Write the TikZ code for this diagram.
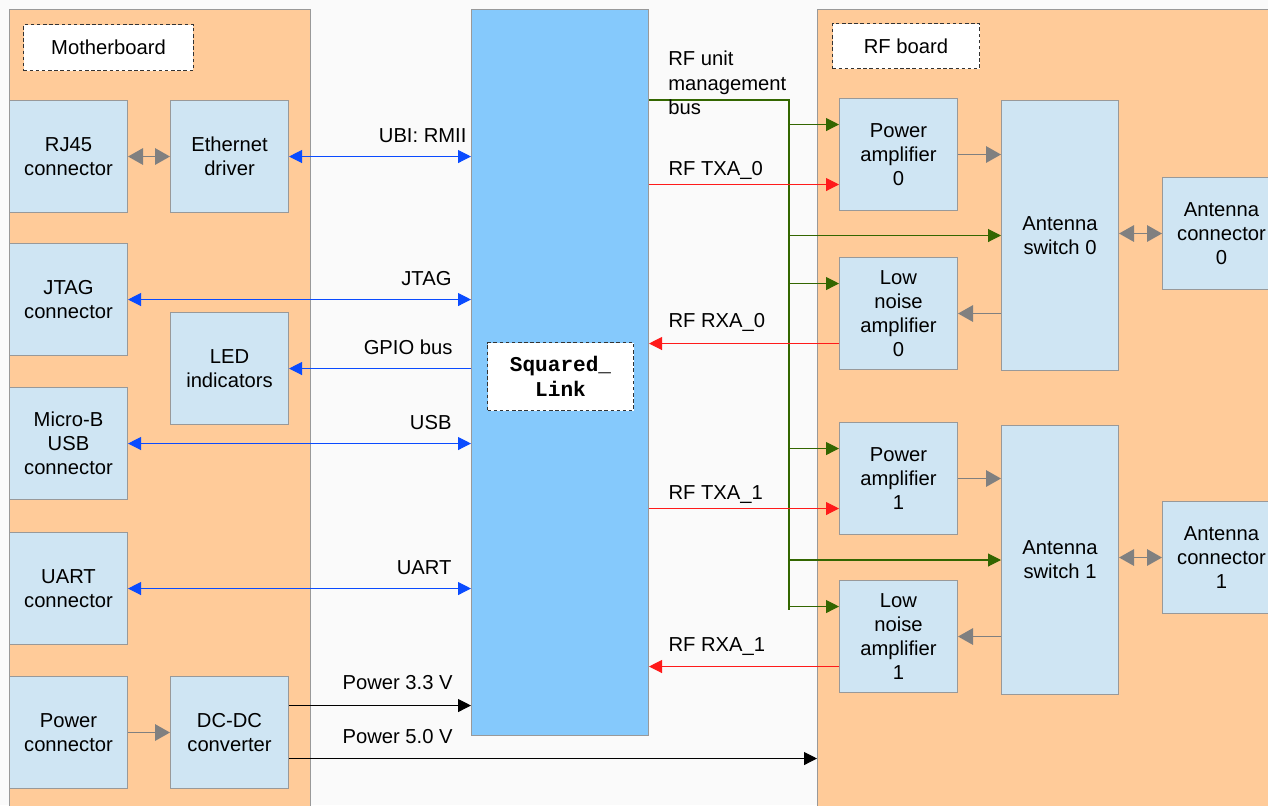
\documentclass[tikz,border=0pt]{standalone}
\usepackage{fontspec}
\setmainfont{Liberation Sans}
\setmonofont{Liberation Mono}
\usetikzlibrary{positioning, arrows.meta, calc}
\definecolor{pagegray}{HTML}{FAFAFA}
\definecolor{boardorange}{HTML}{FFCB99}
\definecolor{blockfill}{HTML}{CFE5F3}
\definecolor{blockline}{HTML}{999999}
\definecolor{linkblue}{HTML}{85C9FC}
\definecolor{busblue}{HTML}{0A4BFF}
\definecolor{mgmtgreen}{HTML}{336600}
\definecolor{rfred}{HTML}{FF1A1A}
\definecolor{tipgray}{HTML}{808080}
\tikzset{
  >={Triangle[length=2.6mm, width=2.6mm]},
  every node/.style={font=\fontsize{11.5}{13.8}\selectfont},
  board/.style={
    rectangle, draw=blockline, fill=boardorange, anchor=north west,
    line width=0.6pt, inner sep=0pt
  },
  block/.style={
    rectangle, draw=blockline, fill=blockfill, anchor=north west,
    minimum width=2.36cm, minimum height=2.24cm, align=center,
    inner sep=2pt, line width=0.6pt
  },
  namebox/.style={
    rectangle, draw=black!80, dash pattern=on 2pt off 1.5pt, fill=white,
    anchor=north west, align=center, inner sep=0pt, line width=0.6pt
  },
  busarrow/.style={busblue, line width=0.6pt},
  rfarrow/.style={->, rfred, line width=0.6pt},
  mgmtarrow/.style={->, mgmtgreen, line width=0.6pt},
  pwrarrow/.style={->, black, line width=0.6pt},
  grayarrow/.style={-{Triangle[length=3mm, width=3.3mm]}, tipgray, line width=0.9pt},
  graybiarrow/.style={{Triangle[length=3mm, width=3.3mm]}-{Triangle[length=3mm, width=3.3mm]},
    tipgray, line width=0.9pt},
  notelabel/.style={inner sep=0pt, align=left, text=black}
}

\begin{document}
\begin{tikzpicture}[x=0.02cm, y=-0.02cm]

\useasboundingbox (0,0) rectangle (1268,805);
\clip (0,0) rectangle (1268,805);
\fill[pagegray] (0,0) rectangle (1268,805);

% Boards
\node[board, minimum width=6.02cm, minimum height=16.5cm] (mobo) at (9,9) {};
\node[board, minimum width=9.4cm, minimum height=16.5cm] (rfb) at (817,9) {};
\node[board, fill=linkblue, minimum width=3.54cm, minimum height=14.52cm] (link) at (471,9) {};

\node[namebox, minimum width=3.4cm, minimum height=0.92cm] (mobotag) at (23,24) {Motherboard};
\node[namebox, minimum width=2.94cm, minimum height=0.9cm] (rftag) at (832,23) {RF board};
\node[namebox, minimum width=2.92cm, minimum height=1.36cm, font=\fontsize{12}{14.5}\selectfont\ttfamily\bfseries]
  (linktag) at (487,342) {Squared\_\\Link};

% Motherboard blocks
\node[block] (rj)   at (9,100)   {RJ45\\connector};
\node[block] (eth)  at (170,100) {Ethernet\\driver};
\node[block] (jtag) at (9,243)   {JTAG\\connector};
\node[block] (led)  at (170,312) {LED\\indicators};
\node[block] (usb)  at (9,387)   {Micro-B\\USB\\connector};
\node[block] (uart) at (9,532)   {UART\\connector};
\node[block] (pwr)  at (9,676)   {Power\\connector};
\node[block] (dcdc) at (170,676) {DC-DC\\converter};

% RF board blocks
\node[block] (pa0)  at (839,98)  {Power\\amplifier\\0};
\node[block] (lna0) at (839,257) {Low\\noise\\amplifier\\0};
\node[block, minimum width=2.34cm, minimum height=5.4cm] (sw0) at (1001,100) {Antenna\\switch 0};
\node[block] (ant0) at (1162,177) {Antenna\\connector\\0};
\node[block] (pa1)  at (839,422) {Power\\amplifier\\1};
\node[block] (lna1) at (839,580) {Low\\noise\\amplifier\\1};
\node[block, minimum width=2.34cm, minimum height=5.38cm] (sw1) at (1001,425) {Antenna\\switch 1};
\node[block] (ant1) at (1162,501) {Antenna\\connector\\1};

% Motherboard links
\draw[graybiarrow] (rj) -- (eth);
\draw[grayarrow] (pwr) -- (dcdc);
\draw[busarrow, <->] (eth.east) -- (eth.east -| link.west)
  node[notelabel, pos=1, anchor=base east, xshift=-0.08cm, yshift=0.28cm] {UBI: RMII};
\draw[busarrow, <->] (jtag.east) -- (jtag.east -| link.west)
  node[notelabel, pos=1, anchor=base east, xshift=-0.38cm, yshift=0.28cm] {JTAG};
\draw[busarrow, ->] (led.east -| link.west) -- (led.east)
  node[notelabel, pos=0, anchor=base east, xshift=-0.36cm, yshift=0.28cm] {GPIO bus};
\draw[busarrow, <->] (usb.east) -- (usb.east -| link.west)
  node[notelabel, pos=1, anchor=base east, xshift=-0.38cm, yshift=0.28cm] {USB};
\draw[busarrow, <->] (uart.east) -- (uart.east -| link.west)
  node[notelabel, pos=1, anchor=base east, xshift=-0.38cm, yshift=0.28cm] {UART};

% Power lines
\coordinate (p33) at ([yshift=0.54cm]dcdc.east);
\coordinate (p50) at ([yshift=-0.52cm]dcdc.east);
\draw[pwrarrow] (p33) -- (p33 -| link.west)
  node[notelabel, pos=0, anchor=base west, xshift=1.06cm, yshift=0.32cm] {Power 3.3 V};
\draw[pwrarrow] (p50) -- (p50 -| rfb.west)
  node[notelabel, pos=0, anchor=base west, xshift=1.06cm, yshift=0.3cm] {Power 5.0 V};

% RF unit management bus
\coordinate (mb) at ([yshift=-1.82cm]link.north east);
\coordinate (bus) at ([xshift=2.8cm]mb);
\foreach \n in {pa0, lna0, pa1, lna1} {
  \coordinate (g\n) at ([yshift=0.6cm]\n.west);
  \draw[mgmtarrow] (g\n -| bus) -- (g\n);
}
\draw[mgmtgreen, line width=0.6pt] (mb) -- (bus) -- ([yshift=-0.06cm]glna1 -| bus);
\draw[mgmtarrow] (sw0.west -| bus) -- (sw0.west);
\draw[mgmtarrow] (sw1.west -| bus) -- (sw1.west);
\node[notelabel, anchor=north west, xshift=0.38cm, yshift=0.98cm] (mbtext) at (mb)
  {RF unit\\management\\bus};

% RF data lines
\foreach \n in {pa0, lna0, pa1, lna1}
  \coordinate (r\n) at ([yshift=-0.6cm]\n.west);
\draw[rfarrow] (rpa0 -| link.east) -- (rpa0)
  node[notelabel, pos=0, anchor=base west, xshift=0.38cm, yshift=0.18cm] {RF TXA\_0};
\draw[rfarrow] (rlna0) -- (rlna0 -| link.east)
  node[notelabel, pos=1, anchor=base west, xshift=0.38cm, yshift=0.32cm] {RF RXA\_0};
\draw[rfarrow] (rpa1 -| link.east) -- (rpa1)
  node[notelabel, pos=0, anchor=base west, xshift=0.38cm, yshift=0.18cm] {RF TXA\_1};
\draw[rfarrow] (rlna1) -- (rlna1 -| link.east)
  node[notelabel, pos=1, anchor=base west, xshift=0.38cm, yshift=0.3cm] {RF RXA\_1};

% Antenna paths
\draw[grayarrow] (pa0.east) -- (pa0.east -| sw0.west);
\draw[grayarrow] (lna0.east -| sw0.west) -- (lna0.east);
\draw[graybiarrow] (ant0.west -| sw0.east) -- (ant0.west);
\draw[grayarrow] (pa1.east) -- (pa1.east -| sw1.west);
\draw[grayarrow] (lna1.east -| sw1.west) -- (lna1.east);
\draw[graybiarrow] (ant1.west -| sw1.east) -- (ant1.west);

\end{tikzpicture}
\end{document}
